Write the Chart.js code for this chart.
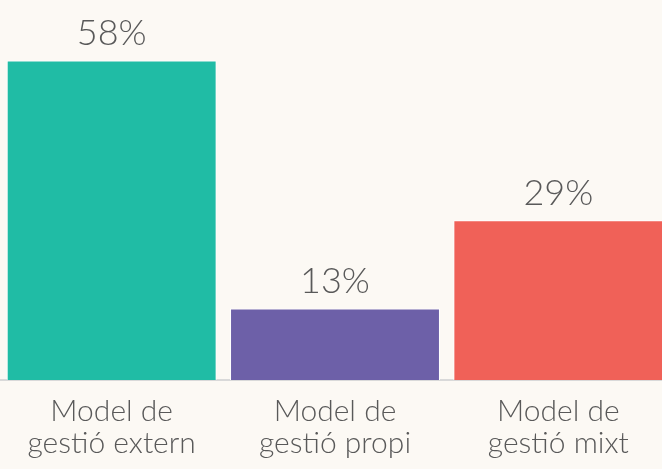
<!DOCTYPE html>
<html>
<head>
<meta charset="utf-8">
<script src="https://cdn.jsdelivr.net/npm/chart.js@4"></script>
<style>
  html, body { margin: 0; padding: 0; background: #fcf9f4; overflow: hidden; }
  #wrap { width: 670px; height: 469px; }
</style>
</head>
<body>
<div id="wrap"><canvas id="chart"></canvas></div>
<script>
const categories = [
    ['Model de', 'gestió extern'],
    ['Model de', 'gestió propi'],
    ['Model de', 'gestió mixt']
];
const shares = [58, 13, 29];
const barColors = ['#20bca5', '#6d60a8', '#f06158'];

// draws the "58%" style labels above each bar
const valueLabels = {
    id: 'valueLabels',
    afterDatasetsDraw(chart) {
        const ctx = chart.ctx;
        const meta = chart.getDatasetMeta(0);
        ctx.save();
        ctx.font = '300 36px Lato';
        ctx.fillStyle = '#595959';
        ctx.textAlign = 'center';
        ctx.textBaseline = 'bottom';
        meta.data.forEach((bar, i) => {
            ctx.fillText(shares[i] + '%', bar.x, bar.y - 9);
        });
        ctx.restore();
    }
};

const data = {
    labels: categories,
    datasets: [{
        data: shares,
        backgroundColor: barColors,
        borderColor: '#ffffff',
        borderWidth: 1,
        barPercentage: 0.94,
        categoryPercentage: 1
    }]
};

const config = {
    type: 'bar',
    data,
    options: {
        responsive: true,
        maintainAspectRatio: false,
        animation: false,
        layout: { padding: 0 },
        plugins: {
            legend: { display: false },
            tooltip: { enabled: false }
        },
        scales: {
            x: {
                grid: { display: false },
                border: { color: '#d9d9d9', width: 2 },
                ticks: {
                    color: '#595959',
                    font: { family: 'Lato', size: 30, weight: '300', lineHeight: 1.05 },
                    padding: 8,
                    maxRotation: 0
                },
                afterFit(scale) {
                    scale.height = 89;
                }
            },
            y: {
                display: false,
                min: 0,
                max: 69
            }
        }
    },
    plugins: [valueLabels]
};

const myChart = new Chart(document.querySelector('#chart'), config);
</script>
</body>
</html>
